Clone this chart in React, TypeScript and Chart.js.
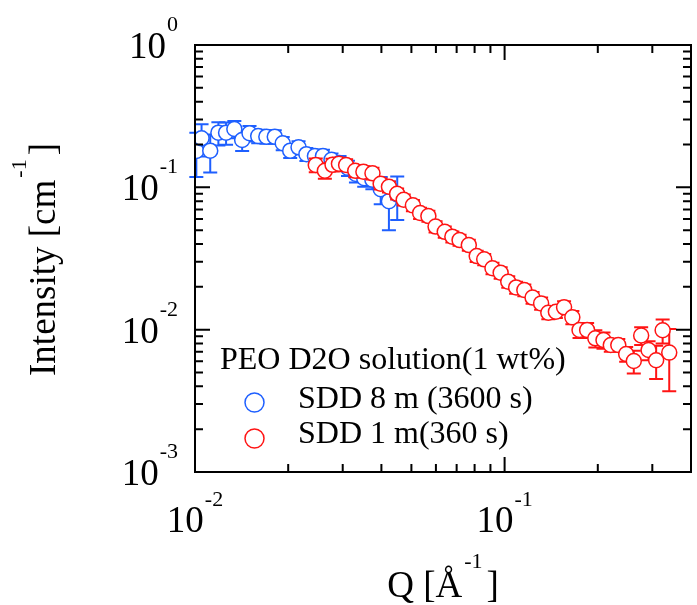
import React, { useEffect, useRef } from 'react';
import { Chart, registerables } from 'chart.js';

Chart.register(...registerables);

// SANS scattering of a 1 wt% PEO solution in D2O, two detector distances.
// Q in 1/Å, intensity in 1/cm, symmetric error in 1/cm.
const qSdd8 = [
  0.0101, 0.0105, 0.0112, 0.0119, 0.0126, 0.0134, 0.0142, 0.0150, 0.0160, 0.0170,
  0.0181, 0.0192, 0.0203, 0.0216, 0.0229, 0.0244, 0.0259, 0.0276, 0.0293, 0.0312,
  0.0331, 0.0352, 0.0374, 0.0398, 0.0423, 0.0450,
];
const iSdd8 = [
  0.180, 0.221, 0.181, 0.242, 0.242, 0.257, 0.215, 0.240, 0.229, 0.227,
  0.227, 0.204, 0.181, 0.191, 0.171, 0.166, 0.166, 0.156, 0.148, 0.137,
  0.124, 0.116, 0.113, 0.097, 0.080, 0.089,
];
const eSdd8 = [
  0.062, 0.056, 0.054, 0.045, 0.043, 0.036, 0.035, 0.030, 0.025, 0.025,
  0.025, 0.022, 0.020, 0.020, 0.018, 0.018, 0.018, 0.017, 0.018, 0.017,
  0.016, 0.015, 0.016, 0.021, 0.030, 0.030,
];

const qSdd1 = [
  0.02455, 0.02627, 0.02781, 0.02917, 0.03077, 0.03293, 0.03499, 0.03743, 0.03978, 0.04231,
  0.04496, 0.04722, 0.05056, 0.05334, 0.05673, 0.05984, 0.06407, 0.06780, 0.07153, 0.07663,
  0.08126, 0.08593, 0.09138, 0.09711, 0.10275, 0.10896, 0.11580, 0.12310, 0.13120, 0.13841,
  0.14644, 0.15563, 0.16550, 0.17459, 0.18473, 0.19637, 0.20865, 0.22030, 0.23292, 0.24699,
  0.26138, 0.27612, 0.29172, 0.30867, 0.32394, 0.34025,
];
const iSdd1 = [
  0.1435, 0.1308, 0.1440, 0.1465, 0.1435, 0.1308, 0.1288, 0.1254, 0.1060, 0.1010,
  0.0902, 0.0818, 0.0747, 0.0660, 0.0628, 0.0530, 0.0487, 0.0450, 0.0426, 0.0393,
  0.0329, 0.0312, 0.0270, 0.0251, 0.0217, 0.0198, 0.0190, 0.0168, 0.0153, 0.01315,
  0.01336, 0.01435, 0.0122, 0.00994, 0.00994, 0.00869, 0.00845, 0.0078, 0.0078, 0.00674,
  0.00602, 0.0091, 0.0072, 0.0061, 0.0099, 0.0069,
];
const eSdd1 = [
  0.016, 0.016, 0.015, 0.015, 0.014, 0.013, 0.012, 0.012, 0.0095, 0.009,
  0.008, 0.0073, 0.0067, 0.006, 0.0056, 0.0048, 0.0044, 0.004, 0.0038, 0.0035,
  0.003, 0.0028, 0.0025, 0.0023, 0.002, 0.0019, 0.0018, 0.0016, 0.0015, 0.0013,
  0.0013, 0.0015, 0.0013, 0.0012, 0.0012, 0.0012, 0.0011, 0.0008, 0.0008, 0.0008,
  0.0011, 0.0013, 0.0011, 0.0016, 0.0019, 0.0032,
];

const legendTitle = 'PEO D2O solution(1 wt%)';
const seriesNames = ['SDD 8 m (3600 s)', 'SDD 1 m(360 s)'];

// decade ticks and their exponents
const xDecades = [0.01, 0.1];
const xExponents = ['-2', '-1'];
const yDecades = [1, 0.1, 0.01, 0.001];
const yExponents = ['0', '-1', '-2', '-3'];

const X_MIN = 0.01;
const X_MAX = 0.4;
const Y_MIN = 0.001;
const Y_MAX = 1;

const BLUE = 'rgb(30, 95, 255)';
const RED = 'rgb(255, 20, 20)';
const SERIF = "'Liberation Serif', 'Times New Roman', Times, serif";

const errorBars = {
  id: 'errorBars',
  beforeDatasetDraw(chart: any, args: any) {
    const ds = chart.data.datasets[args.index];
    const errs: number[] = ds.errors;
    if (!errs) return;
    const xs = chart.scales.x;
    const ys = chart.scales.y;
    const ctx = chart.ctx;
    ctx.save();
    ctx.strokeStyle = ds.borderColor;
    ctx.lineWidth = 2;
    const cap = 7;
    ds.data.forEach((p: any, i: number) => {
      const px = xs.getPixelForValue(p.x);
      const top = ys.getPixelForValue(p.y + errs[i]);
      const bot = ys.getPixelForValue(Math.max(p.y - errs[i], 1e-6));
      ctx.beginPath();
      ctx.moveTo(px, top);
      ctx.lineTo(px, bot);
      ctx.moveTo(px - cap, top);
      ctx.lineTo(px + cap, top);
      ctx.moveTo(px - cap, bot);
      ctx.lineTo(px + cap, bot);
      ctx.stroke();
    });
    ctx.restore();
  },
};

const frameAndTicks = {
  id: 'frameAndTicks',
  afterDatasetsDraw(chart: any) {
    const { ctx, chartArea: a, scales } = chart;
    const xs = scales.x;
    const ys = scales.y;
    ctx.save();
    ctx.strokeStyle = '#000';
    ctx.lineWidth = 2;
    ctx.strokeRect(a.left, a.top, a.right - a.left, a.bottom - a.top);
    ctx.beginPath();
    for (const d of xDecades) {
      for (let m = 1; m <= 9; m++) {
        const v = m * d;
        if (v > X_MAX * 1.0001) break;
        const px = xs.getPixelForValue(v);
        const len = m === 1 ? 15 : 8;
        ctx.moveTo(px, a.bottom);
        ctx.lineTo(px, a.bottom - len);
        ctx.moveTo(px, a.top);
        ctx.lineTo(px, a.top + len);
      }
    }
    for (const d of yDecades) {
      for (let m = 1; m <= 9; m++) {
        const v = m * d;
        if (v > Y_MAX * 1.0001) break;
        const py = ys.getPixelForValue(v);
        const len = m === 1 ? 15 : 8;
        ctx.moveTo(a.left, py);
        ctx.lineTo(a.left + len, py);
        ctx.moveTo(a.right, py);
        ctx.lineTo(a.right - len, py);
      }
    }
    ctx.stroke();
    ctx.restore();
  },
};

const labelsAndLegend = {
  id: 'labelsAndLegend',
  afterDraw(chart: any) {
    const { ctx, chartArea: a, scales } = chart;
    const xs = scales.x;
    const ys = scales.y;
    const mainFont = `37px ${SERIF}`;
    const supFont = `22px ${SERIF}`;
    ctx.save();
    ctx.fillStyle = '#000';
    ctx.textBaseline = 'alphabetic';

    // y tick labels: 10 with exponent, right aligned
    yDecades.forEach((v, i) => {
      const py = ys.getPixelForValue(v);
      const right = 178;
      ctx.font = supFont;
      ctx.textAlign = 'right';
      const supW = ctx.measureText(yExponents[i]).width;
      ctx.fillText(yExponents[i], right, py - 14);
      ctx.font = mainFont;
      ctx.fillText('10', right - supW - 1, py + 13);
    });

    // x tick labels: centred on the tick
    xDecades.forEach((v, i) => {
      const px = xs.getPixelForValue(v);
      ctx.font = mainFont;
      const w10 = ctx.measureText('10').width;
      ctx.font = supFont;
      const supW = ctx.measureText(xExponents[i]).width;
      const start = px - (w10 + 1 + supW) / 2;
      ctx.textAlign = 'left';
      ctx.font = mainFont;
      ctx.fillText('10', start, 532);
      ctx.font = supFont;
      ctx.fillText(xExponents[i], start + w10 + 1, 506);
    });

    // axis titles
    const titleFont = `37px ${SERIF}`;
    const tSup = `22px ${SERIF}`;
    const drawTitle = (head: string, sup: string, tail: string, cx: number, base: number) => {
      ctx.font = titleFont;
      const w1 = ctx.measureText(head).width;
      const w3 = ctx.measureText(tail).width;
      ctx.font = tSup;
      const w2 = ctx.measureText(sup).width;
      const total = w1 + 2 + w2 + 4 + w3;
      const x0 = cx - total / 2;
      ctx.textAlign = 'left';
      ctx.font = titleFont;
      ctx.fillText(head, x0, base);
      ctx.font = tSup;
      ctx.fillText(sup, x0 + w1 + 2, base - 29);
      ctx.font = titleFont;
      ctx.fillText(tail, x0 + w1 + 2 + w2 + 4, base);
    };
    drawTitle('Q [Å', '-1', ']', (a.left + a.right) / 2, 597);

    ctx.save();
    ctx.translate(55, (a.top + a.bottom) / 2 + 1);
    ctx.rotate(-Math.PI / 2);
    drawTitle('Intensity [cm', '-1', ']', 0, 0);
    ctx.restore();

    // legend
    ctx.textAlign = 'left';
    ctx.font = `32px ${SERIF}`;
    ctx.fillText(legendTitle, 220, 369);
    const rows = [
      { color: BLUE, y: 402.5, base: 408 },
      { color: RED, y: 438.5, base: 443 },
    ];
    rows.forEach((r, i) => {
      ctx.beginPath();
      ctx.arc(254.5, r.y, 9.5, 0, Math.PI * 2);
      ctx.fillStyle = '#fff';
      ctx.fill();
      ctx.strokeStyle = r.color;
      ctx.lineWidth = 1.5;
      ctx.stroke();
      ctx.fillStyle = '#000';
      ctx.fillText(seriesNames[i], 298, r.base);
    });
    ctx.restore();
  },
};

export default function App() {
  const canvasRef = useRef<HTMLCanvasElement | null>(null);

  useEffect(() => {
    if (!canvasRef.current) return;
    const toPoints = (qs: number[], is: number[]) => qs.map((q, i) => ({ x: q, y: is[i] }));
    const chart = new Chart(canvasRef.current, {
      type: 'scatter',
      data: {
        datasets: [
          {
            label: seriesNames[0],
            data: toPoints(qSdd8, iSdd8),
            errors: eSdd8,
            borderColor: BLUE,
            backgroundColor: '#fff',
            pointBackgroundColor: '#fff',
            pointBorderColor: BLUE,
            pointBorderWidth: 1.5,
            pointRadius: 7.5,
            showLine: false,
            order: 1,
          } as any,
          {
            label: seriesNames[1],
            data: toPoints(qSdd1, iSdd1),
            errors: eSdd1,
            borderColor: RED,
            backgroundColor: '#fff',
            pointBackgroundColor: '#fff',
            pointBorderColor: RED,
            pointBorderWidth: 1.5,
            pointRadius: 7.5,
            showLine: false,
            order: 0,
          } as any,
        ],
      },
      options: {
        responsive: false,
        animation: false,
        devicePixelRatio: 1,
        layout: { padding: { left: 195, top: 45, right: 2, bottom: 133 } },
        scales: {
          x: { type: 'logarithmic', min: X_MIN, max: X_MAX, display: false },
          y: { type: 'logarithmic', min: Y_MIN, max: Y_MAX, display: false },
        },
        plugins: {
          legend: { display: false },
          tooltip: { enabled: false },
        },
        events: [],
      },
      plugins: [errorBars, frameAndTicks, labelsAndLegend],
    });
    return () => chart.destroy();
  }, []);

  return (
    <div
      style={{
        position: 'fixed',
        left: 0,
        top: 0,
        width: 697,
        height: 605,
        overflow: 'hidden',
        background: '#fff',
      }}
    >
      <canvas ref={canvasRef} width={700} height={605} style={{ display: 'block' }} />
    </div>
  );
}
